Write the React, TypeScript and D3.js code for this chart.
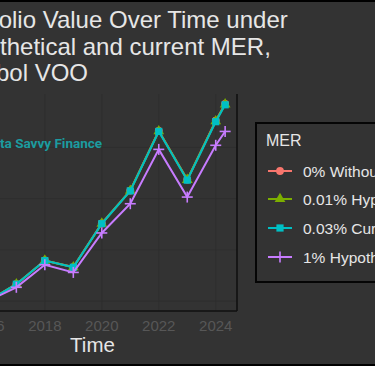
import * as d3 from 'd3';
import React from 'react';

// data (years as decimal, last point is a part-year)
const years = [2016, 2017, 2018, 2019, 2020, 2021, 2022, 2023, 2024, 2024.33];
const mer0 = [20000, 23310, 27930, 26640, 35150, 41570, 53220, 43710, 55180, 58480];
const mer001 = [20000, 23305, 27920, 26625, 35130, 41545, 53170, 43670, 55110, 58400];
const mer003 = [20000, 23300, 27900, 26600, 35100, 41500, 53100, 43600, 55000, 58300];
const mer1 = [20000, 22700, 27100, 25600, 33300, 39000, 49600, 40300, 50400, 53100];

const seriesNames = ['0% Without MER', '0.01% Hypothetical MER', '0.03% Current MER', '1% Hypothetical MER'];
const seriesColors = ['#F8766D', '#7CAE00', '#00BFC4', '#C77CFF'];
const seriesShapes = ['circle', 'triangle', 'square', 'plus'];

const xTicks = [2016, 2018, 2020, 2022, 2024];
const yTicks = [20000, 30000, 40000, 50000];
const titleLines = ['Portfolio Value Over Time under', 'hypothetical and current MER,', 'Symbol VOO'];

const W = 375;
const H = 366;
const panel = { left: -24, right: 237, top: 94, bottom: 311 };
const bg = '#333333';
const font = "'Liberation Sans', Arial, sans-serif";

function Marker({ shape, color, x, y }: { shape: string; color: string; x: number; y: number }) {
  if (shape === 'plus') {
    return (
      <g transform={`translate(${x},${y})`} stroke={color} strokeWidth={1.6}>
        <line x1={-5.5} x2={5.5} y1={0} y2={0} />
        <line x1={0} x2={0} y1={-5.5} y2={5.5} />
      </g>
    );
  }
  const type = shape === 'circle' ? d3.symbolCircle : shape === 'triangle' ? d3.symbolTriangle : d3.symbolSquare;
  const size = shape === 'square' ? 52 : shape === 'triangle' ? 50 : 48;
  return <path transform={`translate(${x},${y})`} d={d3.symbol().type(type).size(size)() || ''} fill={color} />;
}

export default function App() {
  const allSeries = [mer0, mer001, mer003, mer1];

  const xExt = d3.extent(years) as [number, number];
  const xPad = (xExt[1] - xExt[0]) * 0.05;
  const x = d3.scaleLinear().domain([xExt[0] - xPad, xExt[1] + xPad]).range([panel.left, panel.right]);

  const yExt = d3.extent(allSeries.flat()) as [number, number];
  const yPad = (yExt[1] - yExt[0]) * 0.05;
  const y = d3.scaleLinear().domain([yExt[0] - yPad, yExt[1] + yPad]).range([panel.bottom, panel.top]);

  const line = d3
    .line<number>()
    .x((_, i) => x(years[i]))
    .y((d) => y(d));

  const legendX = 256;
  const legendY = 123;
  const legendRows = [171, 199, 228, 257];

  return (
    <svg width={W} height={H} style={{ position: 'absolute', left: 0, top: 0 }} fontFamily={font}>
      <rect width={W} height={H} fill={bg} />
      <rect width={W} height={2} fill="#000" />
      <rect y={H - 2} width={W} height={2} fill="#000" />

      {/* title, its start lies outside the picture */}
      {titleLines.map((t, i) => (
        <text key={t} x={-52} y={28 + i * 26.5} fontSize={24} fill="#e6e6e6">
          {t}
        </text>
      ))}

      {/* faint grid */}
      <g stroke="#2d2d2d" strokeWidth={0.8}>
        {yTicks.map((t) => (
          <line key={t} x1={panel.left} x2={panel.right} y1={y(t)} y2={y(t)} />
        ))}
        {xTicks.map((t) => (
          <line key={t} x1={x(t)} x2={x(t)} y1={panel.top} y2={panel.bottom} />
        ))}
      </g>

      {/* watermark */}
      <text x={-16} y={148} fontSize={13.5} fontWeight="bold" fontFamily="Roboto, sans-serif" fill="#1b9ca0">
        Data Savvy Finance
      </text>

      {/* panel edges */}
      <g stroke="#111" strokeWidth={1.6}>
        <line x1={panel.right} x2={panel.right} y1={panel.top} y2={panel.bottom} />
        <line x1={panel.left} x2={panel.right} y1={panel.bottom} y2={panel.bottom} />
        <line x1={panel.left} x2={panel.left} y1={panel.top} y2={panel.bottom} />
      </g>

      {/* series */}
      {allSeries.map((s, k) => (
        <g key={seriesNames[k]}>
          <path d={line(s) || ''} fill="none" stroke={seriesColors[k]} strokeWidth={2} />
          {s.map((v, i) => (
            <Marker key={i} shape={seriesShapes[k]} color={seriesColors[k]} x={x(years[i])} y={y(v)} />
          ))}
        </g>
      ))}

      {/* axes labels */}
      {xTicks.map((t) => (
        <text key={t} x={x(t)} y={331} fontSize={15} fill="#575757" textAnchor="middle">
          {t}
        </text>
      ))}
      {yTicks.map((t) => (
        <text key={t} x={panel.left - 6} y={y(t) + 5} fontSize={15} fill="#575757" textAnchor="end">
          {d3.format(',')(t)}
        </text>
      ))}
      <text x={92.5} y={352} fontSize={20.5} fill="#e6e6e6" textAnchor="middle">
        Time
      </text>

      {/* legend */}
      <rect x={legendX} y={legendY} width={190} height={159} fill={bg} stroke="#050505" strokeWidth={2} />
      <text x={266} y={146} fontSize={16} fill="#e6e6e6">
        MER
      </text>
      {seriesNames.map((n, k) => (
        <g key={n}>
          <line x1={268} x2={292} y1={legendRows[k]} y2={legendRows[k]} stroke={seriesColors[k]} strokeWidth={2} />
          <Marker shape={seriesShapes[k]} color={seriesColors[k]} x={280} y={legendRows[k]} />
          <text x={303} y={legendRows[k] + 5.5} fontSize={15.5} fill="#e6e6e6">
            {n}
          </text>
        </g>
      ))}
    </svg>
  );
}
